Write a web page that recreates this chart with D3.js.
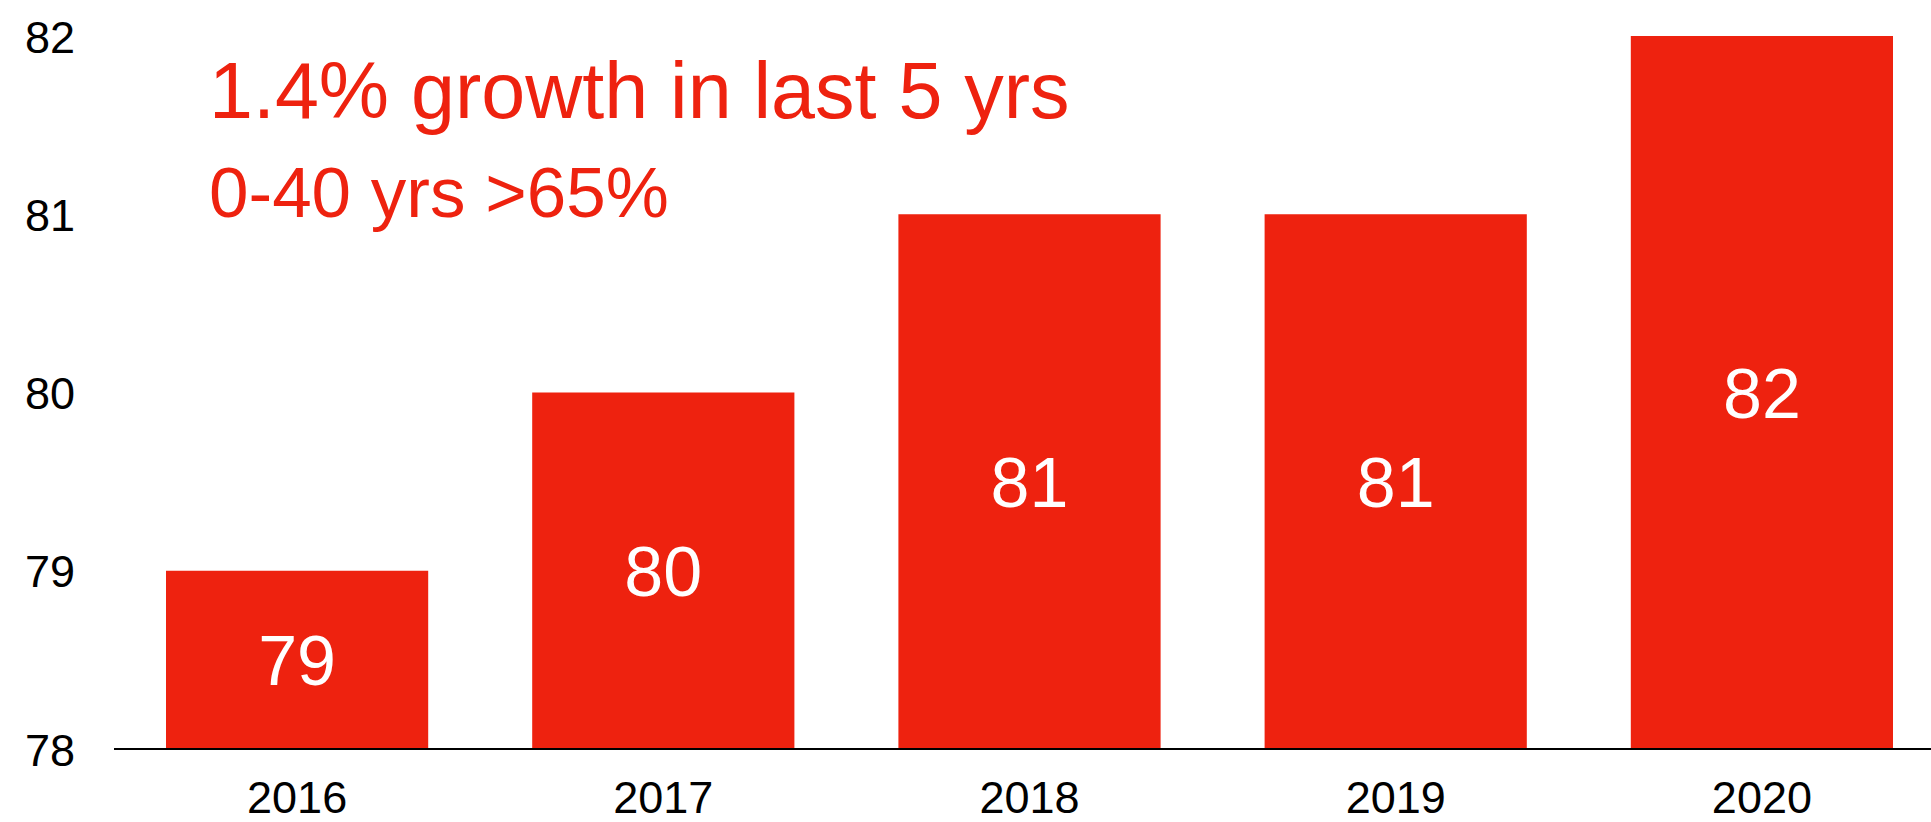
<!DOCTYPE html>
<html lang="en">
    <head>
        <meta charset="UTF-8">
        <title>Growth in last 5 yrs</title>
        <style>
            body {
                margin: 0;
                background-color: #ffffff;
                font-family: 'Liberation Sans', Arial, Helvetica, sans-serif;
            }
            #chart {
                width: 1931px;
                height: 822px;
            }
            .tick-label {
                font-size: 45px;
                fill: #000;
            }
            .bar {
                fill: #ee220f;
            }
            .bar-label {
                font-size: 70px;
                fill: #fff;
            }
            .note {
                fill: #ee220f;
            }
        </style>
    </head>
    <body>
        <div id="chart"></div>

        <script src="https://d3js.org/d3.v7.min.js"></script>
        <script>
            // data
            const years = ["2016", "2017", "2018", "2019", "2020"];
            const values = [79, 80, 81, 81, 82];
            const yTicks = [78, 79, 80, 81, 82];
            const notes = ["1.4% growth in last 5 yrs", "0-40 yrs >65%"];

            const width = 1931;
            const height = 822;

            const svg = d3.select("#chart").append("svg")
                .attr("width", width)
                .attr("height", height);

            const x = d3.scaleBand()
                .domain(years)
                .range([114, 1945])
                .paddingInner(0.284)
                .paddingOuter(0.142);

            const y = d3.scaleLinear()
                .domain([78, 82])
                .range([749, 36]);

            // bars
            svg.append("g")
                .selectAll("rect")
                .data(values)
                .enter().append("rect")
                .attr("class", "bar")
                .attr("x", (d, i) => x(years[i]))
                .attr("y", d => y(d))
                .attr("width", x.bandwidth())
                .attr("height", d => y(78) - y(d));

            // values inside bars
            svg.append("g")
                .selectAll("text")
                .data(values)
                .enter().append("text")
                .attr("class", "bar-label")
                .attr("x", (d, i) => x(years[i]) + x.bandwidth() / 2)
                .attr("y", d => (y(d) + y(78)) / 2)
                .attr("dy", "0.36em")
                .attr("text-anchor", "middle")
                .text(d => d);

            // y axis labels (no line, no ticks)
            const yAxis = d3.axisLeft(y)
                .tickValues(yTicks)
                .tickFormat(d3.format("d"))
                .tickSize(0)
                .tickPadding(0);
            const yg = svg.append("g")
                .attr("transform", "translate(75,0)")
                .call(yAxis);
            yg.select(".domain").remove();
            yg.attr("font-size", null).attr("font-family", null);
            yg.selectAll("text")
                .attr("class", "tick-label")
                .attr("dy", "0.36em");

            // x axis: baseline + year labels
            const xAxis = d3.axisBottom(x).tickSize(0).tickPadding(0);
            const xg = svg.append("g")
                .attr("transform", "translate(0,749)")
                .call(xAxis);
            xg.select(".domain").remove();
            xg.attr("font-size", null).attr("font-family", null);
            xg.selectAll("text")
                .attr("class", "tick-label")
                .attr("y", 64)
                .attr("dy", 0);

            svg.append("line")
                .attr("x1", 114)
                .attr("x2", width)
                .attr("y1", 749)
                .attr("y2", 749)
                .attr("stroke", "#000")
                .attr("stroke-width", 2);

            // notes
            svg.append("text")
                .attr("class", "note")
                .attr("x", 209)
                .attr("y", 118)
                .attr("font-size", 79)
                .text(notes[0]);

            svg.append("text")
                .attr("class", "note")
                .attr("x", 209)
                .attr("y", 217)
                .attr("font-size", 71)
                .text(notes[1]);
        </script>
    </body>
</html>
